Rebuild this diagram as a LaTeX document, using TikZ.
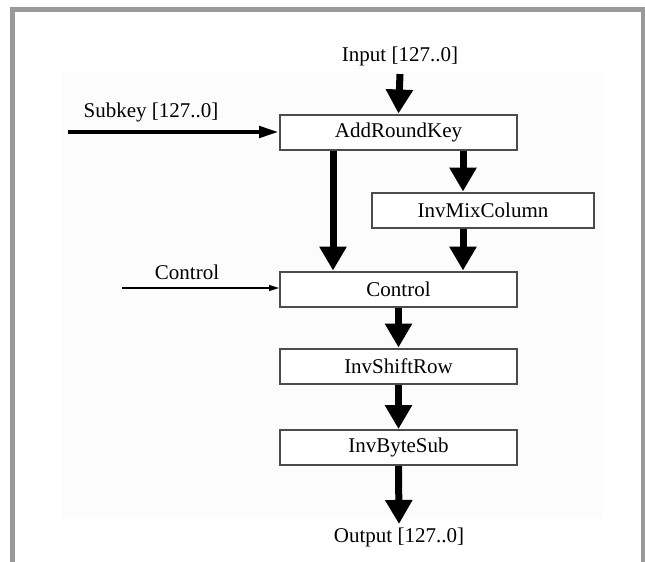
\documentclass[tikz,border=0pt]{standalone}
\usepackage{fontspec}
\setmainfont{Liberation Serif}
\usetikzlibrary{arrows.meta}
\begin{document}
\begin{tikzpicture}[x=1pt,y=-1pt,
  every node/.style={font=\fontsize{21}{25}\selectfont},
  block/.style={draw=black!70, line width=2pt, fill=white, minimum height=35pt, inner sep=0pt},
  wideblock/.style={block, minimum width=237pt},
  flow/.style={line width=7pt, -{Triangle[length=24pt,width=26pt]}},
  keyline/.style={line width=4.5pt, -{Triangle[length=20pt,width=11pt]}},
  thinline/.style={line width=1.5pt, -{Triangle[length=10pt,width=6pt]}},
  frame/.style={draw=black!40, line width=5pt}]
\useasboundingbox (0,0) rectangle (645,562);
% paper background and open frame
\fill[black!1] (63,72) rectangle (603,519);
\draw[frame] (12.5,562) -- (12.5,9.5) -- (643,9.5) -- (643,562);

% processing stages
\node[wideblock] (add) at (398.5,132) {AddRoundKey};
\node[block, minimum width=222pt] (mix) at (483,210) {InvMixColumn};
\node[wideblock] (ctl) at (398.5,289) {Control};
\node[wideblock] (shift) at (398.5,366) {InvShiftRow};
\node[wideblock] (sub) at (398.5,447.5) {InvByteSub};

% external signals
\node (in) at (400,56) {Input [127..0]};
\node (out) at (399,537) {Output [127..0]};
\node (keylbl) at (151,112) {Subkey [127..0]};
\node (ctllbl) at (187,272) {Control};
\coordinate (keyin) at (68,132);
\coordinate (ctlin) at (122,288);
\coordinate (lx) at (333,0);
\coordinate (rx) at (463,0);

% data path
\draw[flow] (in.south) ++(0,5) -- (add.north);
\draw[keyline] (keyin) -- (add.west |- keyin);
\draw[flow] (lx |- add.south) -- (lx |- ctl.north);
\draw[flow] (rx |- add.south) -- (rx |- mix.north);
\draw[flow] (rx |- mix.south) -- (rx |- ctl.north);
\draw[thinline] (ctlin) -- (ctl.west |- ctlin);
\draw[flow] (ctl.south) -- (shift.north);
\draw[flow] (shift.south) -- (sub.north);
\draw[flow] (sub.south) -- (out.north);
\end{tikzpicture}
\end{document}
